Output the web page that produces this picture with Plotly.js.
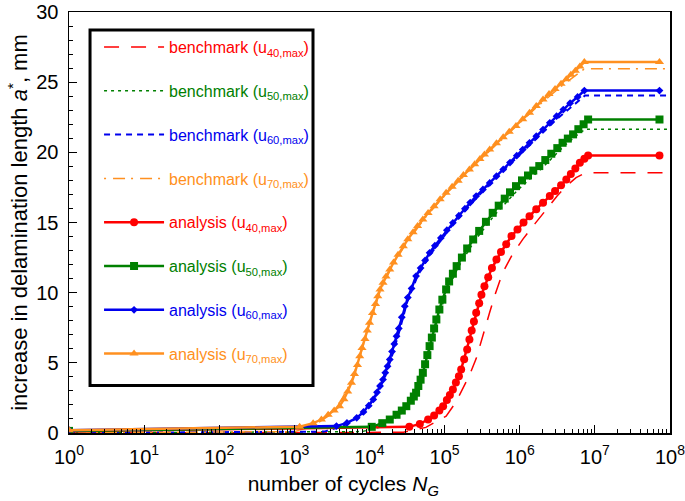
<!DOCTYPE html>
<html>
<head>
<meta charset="utf-8">
<script src="https://cdn.plot.ly/plotly-3.0.1.min.js"></script>
<style>html,body{margin:0;padding:0;background:#fff;}#chart{width:685px;height:501px;}</style>
</head>
<body>
<div id="chart"></div>
<script>
// ---- data (x given as log10 of number of cycles N_G, y = a* in mm) ----
const bench40_logN = [0, 4.45, 4.75, 5.02, 5.15, 5.24, 5.33, 5.42, 5.51, 5.60, 5.68, 5.77, 5.90, 6.04, 6.20, 6.35, 6.50, 6.62, 6.75, 6.88, 8.0];
const bench40_a    = [0, 0.05, 0.4, 1.2, 2.2, 3.1, 4.1, 5.3, 7.0, 8.6, 10.0, 11.4, 12.7, 13.8, 14.9, 15.9, 16.9, 17.6, 18.2, 18.55, 18.55];

const bench50_logN = [0, 3.9, 4.2, 4.45, 4.62, 4.72, 4.81, 4.90, 5.03, 5.18, 5.40, 5.66, 5.97, 6.30, 6.60, 6.80, 6.88, 8.0];
const bench50_a    = [0, 0.1, 0.5, 1.5, 2.8, 4.3, 6.1, 8.0, 10.1, 11.8, 13.7, 15.5, 17.3, 18.9, 20.5, 21.4, 21.65, 21.65];

const bench60_logN = [0, 3.4, 3.65, 3.9, 4.07, 4.2, 4.3, 4.4, 4.5, 4.64, 4.82, 5.1, 5.45, 5.8, 6.15, 6.5, 6.87, 8.0];
const bench60_a    = [0, 0.1, 0.5, 1.3, 2.5, 3.9, 5.5, 7.3, 9.3, 11.2, 12.8, 14.8, 16.9, 18.8, 20.6, 22.4, 24.05, 24.05];

const bench70_logN = [0, 3.0, 3.25, 3.45, 3.62, 3.76, 3.88, 4.0, 4.14, 4.3, 4.5, 4.75, 5.05, 5.4, 5.8, 6.2, 6.55, 6.86, 8.0];
const bench70_a    = [0, 0.1, 0.5, 1.2, 2.3, 3.7, 5.6, 7.8, 10.1, 11.9, 13.6, 15.4, 17.2, 19.1, 21.1, 23.1, 24.7, 25.95, 25.95];

const ana40_logN = [0, 4.53, 4.67, 4.78, 4.86, 4.93, 4.98, 5.03, 5.07, 5.11, 5.15, 5.19, 5.22, 5.26, 5.30, 5.33, 5.36, 5.39, 5.42, 5.46, 5.49, 5.53, 5.58, 5.63, 5.69, 5.75, 5.82, 5.89, 5.97, 6.05, 6.13, 6.22, 6.31, 6.40, 6.47, 6.55, 6.62, 6.68, 6.74, 6.80, 6.86, 6.91, 7.86];
const ana40_a    = [0.12, 0.44, 0.65, 0.96, 1.25, 1.6, 1.91, 2.35, 2.7, 3.10, 3.6, 4.05, 4.53, 5.25, 5.95, 6.66, 7.3, 7.95, 8.57, 9.25, 9.85, 10.46, 11.1, 11.75, 12.37, 12.9, 13.45, 14.03, 14.5, 15.0, 15.45, 15.95, 16.4, 16.88, 17.25, 17.65, 18.07, 18.45, 18.85, 19.26, 19.55, 19.78, 19.78];

const ana50_logN = [0, 4.03, 4.17, 4.27, 4.36, 4.43, 4.49, 4.55, 4.59, 4.62, 4.65, 4.68, 4.71, 4.74, 4.77, 4.80, 4.83, 4.86, 4.89, 4.93, 4.97, 5.02, 5.06, 5.11, 5.16, 5.23, 5.30, 5.38, 5.46, 5.55, 5.64, 5.72, 5.80, 5.87, 5.95, 6.03, 6.11, 6.18, 6.26, 6.34, 6.42, 6.50, 6.57, 6.64, 6.71, 6.78, 6.85, 6.91, 7.86];
const ana50_a    = [0.15, 0.44, 0.7, 0.96, 1.3, 1.6, 1.91, 2.3, 2.6, 2.87, 3.35, 3.8, 4.29, 4.9, 5.55, 6.19, 6.8, 7.45, 8.09, 8.8, 9.5, 10.23, 10.8, 11.35, 11.89, 12.5, 13.15, 13.79, 14.4, 15.05, 15.69, 16.2, 16.7, 17.15, 17.59, 18.0, 18.35, 18.7, 19.02, 19.45, 19.9, 20.3, 20.68, 20.98, 21.28, 21.65, 22.0, 22.34, 22.34];

const ana60_logN = [0, 3.56, 3.70, 3.83, 3.92, 3.99, 4.05, 4.10, 4.14, 4.18, 4.21, 4.24, 4.27, 4.30, 4.33, 4.36, 4.39, 4.43, 4.47, 4.51, 4.56, 4.62, 4.68, 4.74, 4.80, 4.87, 4.95, 5.03, 5.11, 5.19, 5.27, 5.34, 5.42, 5.51, 5.60, 5.69, 5.78, 5.87, 5.96, 6.04, 6.13, 6.22, 6.31, 6.40, 6.49, 6.58, 6.67, 6.77, 6.86, 7.86];
const ana60_a    = [0.2, 0.49, 0.72, 1.08, 1.5, 1.95, 2.39, 2.9, 3.35, 3.81, 4.3, 4.75, 5.24, 5.8, 6.35, 6.90, 7.45, 8.25, 9.04, 9.65, 10.3, 11.18, 11.75, 12.3, 12.84, 13.35, 13.9, 14.45, 14.98, 15.48, 15.98, 16.42, 16.88, 17.35, 17.82, 18.3, 18.78, 19.27, 19.76, 20.2, 20.68, 21.15, 21.62, 22.1, 22.58, 23.05, 23.5, 23.95, 24.4, 24.4];

const ana70_logN = [0, 3.07, 3.25, 3.36, 3.45, 3.53, 3.60, 3.66, 3.71, 3.76, 3.80, 3.84, 3.87, 3.90, 3.94, 3.97, 4.00, 4.04, 4.08, 4.11, 4.14, 4.18, 4.22, 4.27, 4.32, 4.38, 4.45, 4.51, 4.58, 4.64, 4.71, 4.78, 4.86, 4.94, 5.02, 5.10, 5.18, 5.25, 5.33, 5.40, 5.47, 5.53, 5.60, 5.69, 5.78, 5.86, 5.95, 6.04, 6.13, 6.22, 6.31, 6.39, 6.47, 6.55, 6.62, 6.68, 6.74, 6.80, 6.86, 7.86];
const ana70_a    = [0.2, 0.45, 0.7, 0.96, 1.3, 1.6, 1.91, 2.4, 2.95, 3.58, 4.2, 4.85, 5.47, 6.05, 6.7, 7.3, 7.85, 8.55, 9.2, 9.75, 10.23, 10.7, 11.15, 11.65, 12.15, 12.7, 13.31, 13.8, 14.3, 14.75, 15.22, 15.68, 16.15, 16.65, 17.12, 17.55, 17.98, 18.38, 18.78, 19.15, 19.52, 19.85, 20.21, 20.65, 21.08, 21.47, 21.87, 22.35, 22.82, 23.3, 23.77, 24.15, 24.52, 24.88, 25.20, 25.52, 25.82, 26.12, 26.43, 26.43];

const xTickVals = [1, 10, 100, 1000, 1e4, 1e5, 1e6, 1e7, 1e8];
const xTickText = ['10<sup>0</sup>','10<sup>1</sup>','10<sup>2</sup>','10<sup>3</sup>','10<sup>4</sup>','10<sup>5</sup>','10<sup>6</sup>','10<sup>7</sup>','10<sup>8</sup>'];

const RED = '#ff0000', GREEN = '#008000', BLUE = '#0000ee', ORANGE = '#ff9020';
const toN = arr => arr.map(v => Math.pow(10, v));
const lbl = (word, sub, col) => '<span style="color:' + col + '">' + word + ' (u<sub>' + sub + ',max</sub>)</span>';

const traces = [
  {x: toN(bench40_logN), y: bench40_a, mode: 'lines', name: lbl('benchmark','40',RED), legendgroup: 'b40',
   line: {color: RED, width: 1.5, dash: '15px,12px'}},
  {x: toN(bench50_logN), y: bench50_a, mode: 'lines', name: lbl('benchmark','50',GREEN), legendgroup: 'b50',
   line: {color: GREEN, width: 1.5, dash: '3px,4px'}},
  {x: toN(bench60_logN), y: bench60_a, mode: 'lines', name: lbl('benchmark','60',BLUE), legendgroup: 'b60',
   line: {color: BLUE, width: 2, dash: '6px,5px'}},
  {x: toN(bench70_logN), y: bench70_a, mode: 'lines', name: lbl('benchmark','70',ORANGE), legendgroup: 'b70',
   line: {color: ORANGE, width: 1.5, dash: '2px,7px,12px,6px'}},
  {x: toN(ana40_logN), y: ana40_a, mode: 'lines+markers', name: lbl('analysis','40',RED), legendgroup: 'a40',
   line: {color: RED, width: 2.5}, marker: {symbol: 'circle', size: 8, color: RED}},
  {x: toN(ana50_logN), y: ana50_a, mode: 'lines+markers', name: lbl('analysis','50',GREEN), legendgroup: 'a50',
   line: {color: GREEN, width: 2.5}, marker: {symbol: 'square', size: 8, color: GREEN}},
  {x: toN(ana60_logN), y: ana60_a, mode: 'lines+markers', name: lbl('analysis','60',BLUE), legendgroup: 'a60',
   line: {color: BLUE, width: 2.5}, marker: {symbol: 'diamond', size: 6, color: BLUE}},
  {x: toN(ana70_logN), y: ana70_a, mode: 'lines+markers', name: lbl('analysis','70',ORANGE), legendgroup: 'a70',
   line: {color: ORANGE, width: 2.5}, marker: {symbol: 'triangle-up', size: 8, color: ORANGE}}
];

const layout = {
  width: 685, height: 501,
  margin: {l: 69, r: 15, t: 12, b: 68},
  paper_bgcolor: '#fff', plot_bgcolor: '#fff',
  font: {family: 'Liberation Sans, Arial, sans-serif', color: '#000', size: 18},
  showlegend: true,
  legend: {x: 0.05, y: 0.957, xanchor: 'left', yanchor: 'top', bgcolor: 'rgba(0,0,0,0)',
           font: {size: 16}, tracegroupgap: 20, itemwidth: 60},
  xaxis: {type: 'log', range: [0, 8], tickmode: 'array', tickvals: xTickVals, ticktext: xTickText,
          ticks: 'inside', ticklen: 8, tickwidth: 1, tickcolor: '#000', ticklabelstandoff: 5,
          ticklabeloverflow: 'allow',
          showline: true, linecolor: '#000', linewidth: 1.5, mirror: true,
          showgrid: false, zeroline: false, tickfont: {size: 20},
          minor: {ticks: 'inside', ticklen: 4, dtick: 'D1', tickcolor: '#000', showgrid: false},
          title: {text: 'number of cycles <i>N</i><sub><i>G</i></sub>&nbsp;&nbsp;&nbsp;&nbsp;&nbsp;&nbsp;&nbsp;&nbsp;&nbsp;', font: {size: 21}, standoff: 10}},
  yaxis: {range: [0, 30], dtick: 5, ticks: 'inside', ticklen: 8, tickwidth: 1, tickcolor: '#000',
          ticklabelstandoff: 5,
          showline: true, linecolor: '#000', linewidth: 1.5, mirror: true,
          showgrid: false, zeroline: false, tickfont: {size: 20},
          minor: {ticks: 'inside', ticklen: 4, dtick: 1, tickcolor: '#000', showgrid: false},
          title: {text: 'increase in delamination length <i>a</i><sup>*</sup>, mm', font: {size: 22}, standoff: 2}},
  shapes: [{type: 'rect', xref: 'paper', yref: 'paper', x0: 0.035, x1: 0.406, y0: 0.113, y1: 0.957,
            line: {color: '#000', width: 3}, fillcolor: 'rgba(0,0,0,0)'}]
};

Plotly.newPlot('chart', traces, layout, {displayModeBar: false, staticPlot: true});
</script>
</body>
</html>
